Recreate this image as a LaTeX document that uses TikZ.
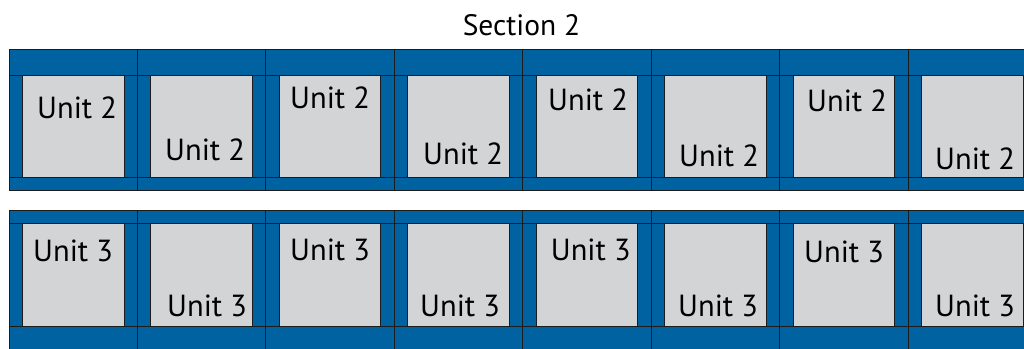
\documentclass[tikz,border=0pt]{standalone}
\usepackage{fontspec}
\setmainfont{PT Sans}
\definecolor{bandblue}{RGB}{0,98,160}
\definecolor{unitgray}{RGB}{211,212,214}
\definecolor{edge}{RGB}{28,28,28}
\begin{document}
\begin{tikzpicture}[x=1pt,y=-1pt,
  cellbox/.style={fill=bandblue,draw=edge,line width=0.9pt},
  unitbox/.style={fill=unitgray,draw=edge,line width=0.9pt},
  bandline/.style={draw=edge,line width=0.9pt},
  unitlabel/.style={anchor=base west,inner sep=0pt,font=\fontsize{30.5}{36}\selectfont},
  titlelabel/.style={anchor=base,inner sep=0pt,font=\fontsize{29.5}{35}\selectfont}]
\useasboundingbox (0,0) rectangle (1024,348);
\clip (0,0) rectangle (1024,348);
\fill[white] (0,0) rectangle (1024,348);
\node[titlelabel] (title) at (521.5,35) {Section 2};
% row 1
\foreach \i in {0,...,7}{
  \pgfmathsetmacro{\xa}{9+128.43*\i}
  \pgfmathsetmacro{\xb}{\xa+128.43}
  \path[cellbox] (\xa,49.3) rectangle (\xb,190.7);
  \path[unitbox] (\xa+13.5,75) rectangle (\xa+115,177.3);
  \draw[bandline] (\xa,75) -- (\xb,75);
  \draw[bandline] (\xa,177.3) -- (\xb,177.3);
}
% row 2
\foreach \i in {0,...,7}{
  \pgfmathsetmacro{\xa}{9+128.43*\i}
  \pgfmathsetmacro{\xb}{\xa+128.43}
  \path[cellbox] (\xa,210.7) rectangle (\xb,360);
  \path[unitbox] (\xa+13.5,223.3) rectangle (\xa+115,326);
  \draw[bandline] (\xa,223.3) -- (\xb,223.3);
  \draw[bandline] (\xa,326) -- (\xb,326);
}
% labels row 1
\node[unitlabel] (a1) at (37,118.3) {Unit 2};
\node[unitlabel] (a2) at (165,160.7) {Unit 2};
\node[unitlabel] (a3) at (290,108.3) {Unit 2};
\node[unitlabel] (a4) at (423,164) {Unit 2};
\node[unitlabel] (a5) at (548,110) {Unit 2};
\node[unitlabel] (a6) at (679,166) {Unit 2};
\node[unitlabel] (a7) at (807,111) {Unit 2};
\node[unitlabel] (a8) at (935,169) {Unit 2};
% labels row 2
\node[unitlabel] (b1) at (33,261.7) {Unit 3};
\node[unitlabel] (b2) at (167,316) {Unit 3};
\node[unitlabel] (b3) at (290,260) {Unit 3};
\node[unitlabel] (b4) at (420,316) {Unit 3};
\node[unitlabel] (b5) at (550.7,260) {Unit 3};
\node[unitlabel] (b6) at (678,316) {Unit 3};
\node[unitlabel] (b7) at (804,262) {Unit 3};
\node[unitlabel] (b8) at (935,316) {Unit 3};
\end{tikzpicture}
\end{document}
